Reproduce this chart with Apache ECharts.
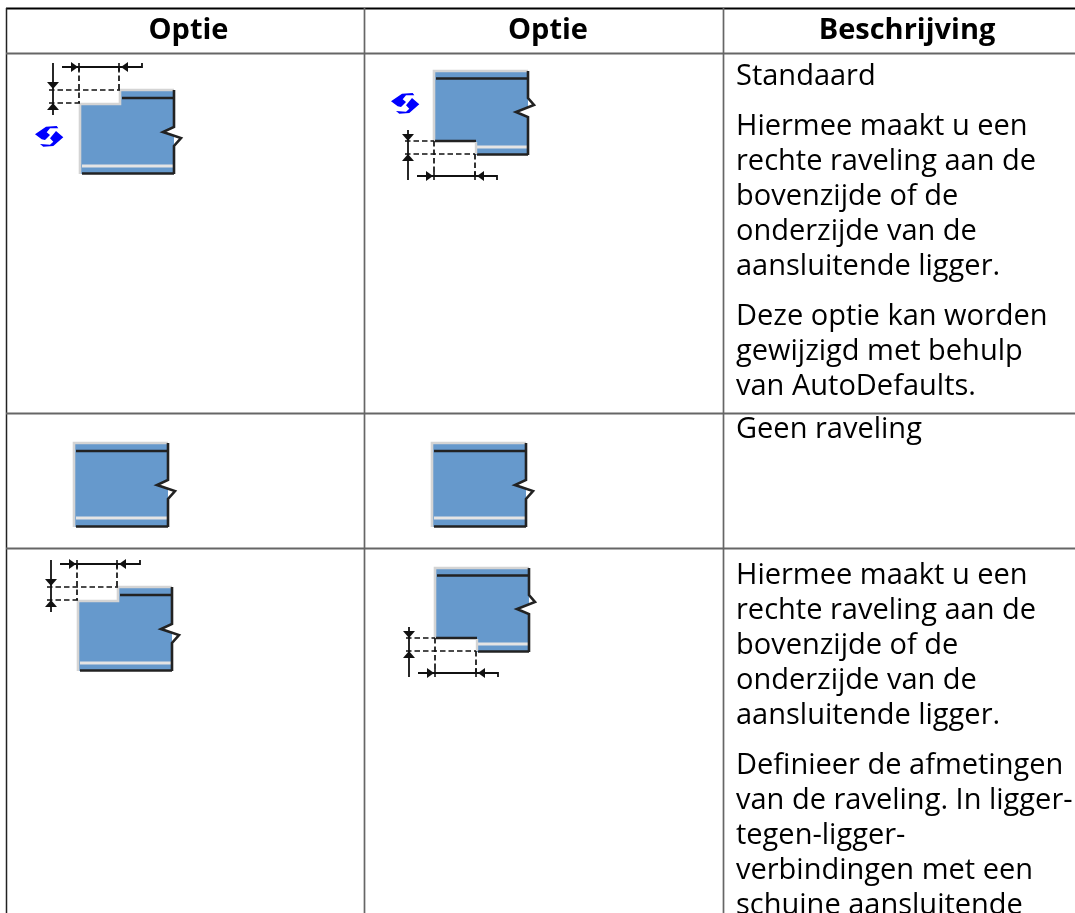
<!DOCTYPE html>
<html><head><meta charset="utf-8">
<style>html,body{margin:0;padding:0;background:#fff}#c{width:1075px;height:913px}</style>
<script src="https://cdn.jsdelivr.net/npm/echarts@6/dist/echarts.min.js"></script>
</head><body><div id="c"></div>
<script>
const headers = ['Optie','Optie','Beschrijving'];
const rowOneText = [['Standaard'],['Hiermee maakt u een','rechte raveling aan de','bovenzijde of de','onderzijde van de','aansluitende ligger.'],['Deze optie kan worden','gewijzigd met behulp','van AutoDefaults.']];
const rowTwoText = [['Geen raveling']];
const rowThreeText = [['Hiermee maakt u een','rechte raveling aan de','bovenzijde of de','onderzijde van de','aansluitende ligger.'],['Definieer de afmetingen','van de raveling. In ligger-','tegen-ligger-','verbindingen met een','schuine aansluitende']];

const FONT = '"Open Sans"';
const els = [];
function line(x1,y1,x2,y2,color,w,dash){
  els.push({type:'line',silent:true,shape:{x1,y1,x2,y2},style:{stroke:color,lineWidth:w,lineDash:dash||null}});
}
function poly(points,color,w){
  els.push({type:'polyline',silent:true,shape:{points},style:{stroke:color,lineWidth:w,fill:null}});
}
function fillPoly(points,color){
  els.push({type:'polygon',silent:true,shape:{points},style:{fill:color}});
}
function text(s,x,y,bold,align){
  els.push({type:'text',silent:true,x,y,style:{text:s,fill:'#000',font:(bold?'bold ':'')+'29px '+FONT,textAlign:align||'left',textVerticalAlign:'middle'}});
}
const DARK='#222', GREY='#d4d4d4', BLUE='#6699cc', DIM='#111', PALE='#e4e4e4';
const DASH=[5.5,3];

/* Beam with the cope at the top (mode 'top'), at the bottom ('bottom') or none. */
function beam(ox,oy,mode){
  const W=94,H=84;
  const L=ox,R=ox+W,T=oy,B=oy+H;
  let outline;
  if(mode==='top') outline=[[L,T+14],[L+40,T+14],[L+40,T],[R,T],[R,B],[L,B]];
  else if(mode==='bottom') outline=[[L,T],[R,T],[R,B],[L+42,B],[L+42,B-14],[L,B-14]];
  else outline=[[L,T],[R,T],[R,B],[L,B]];
  fillPoly(outline,BLUE);
  const zy = mode==='bottom' ? T+27 : T+37;
  const pts = mode==='bottom'
    ? [[R,T],[R,zy],[R+6,zy+7],[R-12,zy+14],[R,zy+19],[R,B]]
    : [[R,T],[R,zy],[R-11,zy+5],[R+7,zy+11],[R,zy+19],[R,B]];
  fillPoly(mode==='bottom'
    ? [[R+1,zy],[R+6,zy+7],[R-12,zy+14],[R+1,zy+19]]
    : [[R+1,zy],[R-11,zy+5],[R+7,zy+11],[R+1,zy+19]],'#fff');
  if(mode==='top'){
    poly([[L,B],[L,T+14],[L+40,T+14],[L+40,T],[R,T]],GREY,2.6);
    line(L+42,T+8,R-1,T+8,DARK,2.6);
    line(L+2,B-8,R-1,B-8,PALE,2.8);
    line(L+2,B-0.5,R,B-0.5,DARK,2.6);
  } else if(mode==='bottom'){
    poly([[L,B-14],[L,T],[R,T]],GREY,2.6);
    line(L+2,T+7.5,R-1,T+7.5,DARK,2.6);
    line(L+43,B-8,R-1,B-8,PALE,2.8);
    line(L+43,B-0.5,R,B-0.5,DARK,2.6);
    line(L+1,B-14,L+42,B-14,DARK,2.4);
    line(L+42,B-13,L+42,B-1,GREY,2.4);
  } else {
    poly([[L,B],[L,T],[R,T]],GREY,2.6);
    line(L+2,T+8,R-1,T+8,DARK,2.6);
    line(L+2,B-9,R-1,B-9,PALE,2.8);
    line(L+2,B-0.5,R,B-0.5,DARK,2.6);
  }
  poly(pts,DARK,2.6);
}
function arrowDown(x,y){fillPoly([[x-6,y-7],[x+6,y-7],[x,y]],DIM);}
function arrowUp(x,y){fillPoly([[x-6,y+7],[x+6,y+7],[x,y]],DIM);}
function arrowRight(x,y){fillPoly([[x-7,y-5],[x-7,y+5],[x,y]],DIM);}
function arrowLeft(x,y){fillPoly([[x+7,y-5],[x+7,y+5],[x,y]],DIM);}
function dimsTop(L,T){
  const x0=L-27;
  line(x0,T-27,x0,T+25,DIM,1.8);
  line(x0-4,T,L+40,T,DIM,1.7,DASH);
  line(x0-4,T+13,L,T+13,DIM,1.7,DASH);
  line(L-1,T-23,L-1,T+13,DIM,1.7,DASH);
  line(L+39,T-23,L+39,T,DIM,1.7,DASH);
  arrowDown(x0,T-1);arrowUp(x0,T+13);
  poly([[L-18,T-23],[L+62,T-23],[L+62,T-27]],DIM,1.8);
  arrowRight(L-2,T-23);arrowLeft(L+41,T-23);
  line(L-1,T-27,L-1,T-19,DIM,1.6);line(L+39,T-27,L+39,T-19,DIM,1.6);
}
function dimsBottom(L,B){
  const x0=L-26;
  line(x0,B-25,x0,B+25,DIM,1.8);
  line(x0-3,B-14,L,B-14,DIM,1.7,DASH);
  line(x0-3,B-1,L+41,B-1,DIM,1.7,DASH);
  line(L,B-14,L,B+21,DIM,1.7,DASH);
  line(L+41,B-1,L+41,B+21,DIM,1.7,DASH);
  arrowDown(x0,B-14);arrowUp(x0,B-1);
  poly([[L-17,B+21],[L+63,B+21],[L+63,B+25]],DIM,1.8);
  arrowRight(L-1,B+21);arrowLeft(L+43,B+21);
  line(L,B+17,L,B+25,DIM,1.6);line(L+41,B+17,L+41,B+25,DIM,1.6);
}
function refresh(x,y){
  const c='#0000ff';
  const p=a=>a.map(q=>[x+q[0],y+q[1]]);
  fillPoly(p([[0,8.3],[11,0.7],[21.7,0],[23.3,2.3],[15,2.3],[11.7,6.3],[15,9],[10,14],[6.7,13.3]]),c);
  fillPoly(p([[28.3,11.3],[18.3,20],[8.3,20.7],[5,18],[15,18.7],[18.3,15.7],[15,12.3],[21,5]]),c);
}

// table rules
line(6,8.5,1075,8.5,'#000',1.8);
line(6.5,8,6.5,913,'#222',1.5);
line(364.5,8,364.5,913,'#666',1.7);
line(723.5,8,723.5,913,'#666',1.7);
line(6,53.5,1075,53.5,'#666',2);
line(6,413.5,1075,413.5,'#666',2);
line(6,548.5,1075,548.5,'#666',2);

// headers
text(headers[0],188.5,31,true,'center');
text(headers[1],548,31,true,'center');
text(headers[2],907,31,true,'center');

// body
const LH=35, TX=736;
function block(paras,y){
  paras.forEach(p=>{p.forEach(s=>{text(s,TX,y);y+=LH;});y+=15;});
}
block(rowOneText,77);
block(rowTwoText,430);
block(rowThreeText,575.5);

// icons
beam(80,90,'top');dimsTop(80,90);refresh(35,126);
beam(434,71,'bottom');dimsBottom(434,155);refresh(391,93);
beam(74,443,'none');
beam(432,443,'none');
beam(78,587,'top');dimsTop(78,587);
beam(435,568,'bottom');dimsBottom(435,652);

const chart=echarts.init(document.getElementById('c'),null,{renderer:'canvas'});
chart.setOption({animation:false,backgroundColor:'#fff',graphic:{elements:els}});
</script></body></html>
